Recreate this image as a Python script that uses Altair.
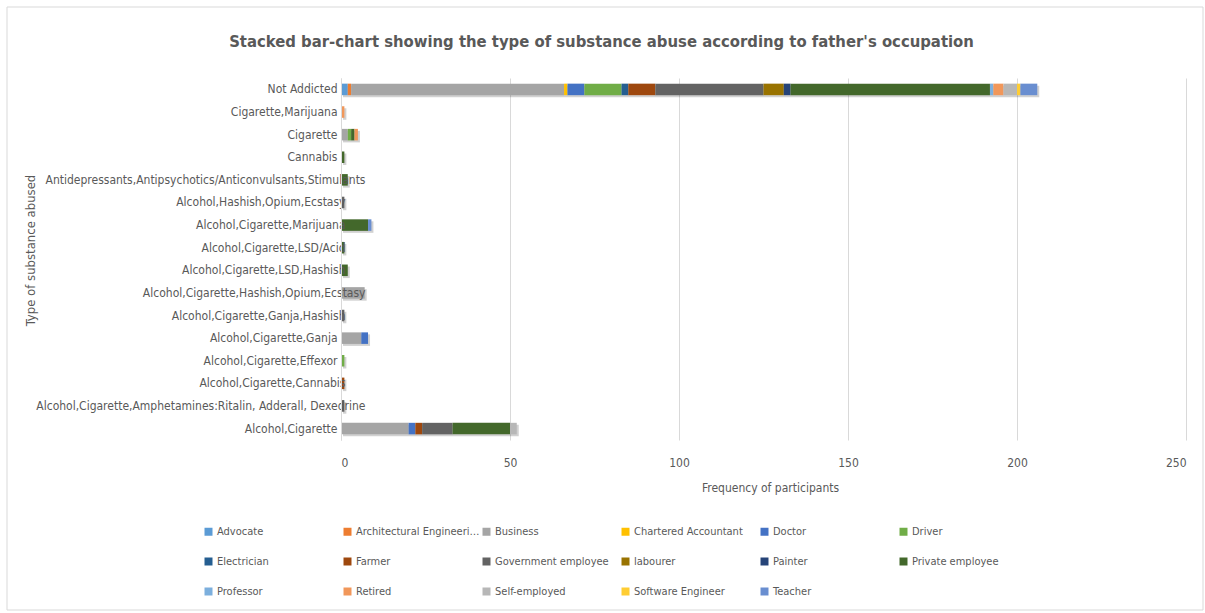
import altair as alt
import pandas as pd

# Substance-use categories, listed top to bottom
categories = [
    "Not Addicted",
    "Cigarette,Marijuana",
    "Cigarette",
    "Cannabis",
    "Antidepressants,Antipsychotics/Anticonvulsants,Stimulants",
    "Alcohol,Hashish,Opium,Ecstasy",
    "Alcohol,Cigarette,Marijuana",
    "Alcohol,Cigarette,LSD/Acid",
    "Alcohol,Cigarette,LSD,Hashish",
    "Alcohol,Cigarette,Hashish,Opium,Ecstasy",
    "Alcohol,Cigarette,Ganja,Hashish",
    "Alcohol,Cigarette,Ganja",
    "Alcohol,Cigarette,Effexor",
    "Alcohol,Cigarette,Cannabis",
    "Alcohol,Cigarette,Amphetamines:Ritalin, Adderall, Dexedrine",
    "Alcohol,Cigarette",
]

# Participant counts per father's occupation, one value per category above
advocate =            [2, 0, 0, 0, 0, 0, 0, 0, 0, 0, 0, 0, 0, 0, 0, 0]
architectural_eng =   [1, 0, 0, 0, 0, 0, 0, 0, 0, 0, 0, 0, 0, 0, 0, 0]
business =            [63, 0, 2, 0, 0, 0, 0, 0, 0, 7, 0, 6, 0, 0, 0, 20]
chartered_acct =      [1, 0, 0, 0, 0, 0, 0, 0, 0, 0, 0, 0, 0, 0, 0, 0]
doctor =              [5, 0, 0, 0, 0, 0, 0, 0, 0, 0, 0, 2, 0, 0, 0, 2]
driver =              [11, 0, 1, 0, 0, 0, 0, 0, 0, 0, 0, 0, 1, 0, 0, 0]
electrician =         [2, 0, 0, 0, 0, 0, 0, 0, 0, 0, 0, 0, 0, 0, 0, 0]
farmer =              [8, 0, 0, 0, 0, 0, 0, 0, 0, 0, 0, 0, 0, 1, 0, 2]
government_emp =      [32, 0, 0, 0, 0, 1, 0, 0, 0, 0, 1, 0, 0, 0, 1, 9]
labourer =            [6, 0, 0, 0, 0, 0, 0, 0, 0, 0, 0, 0, 0, 0, 0, 0]
painter =             [2, 0, 0, 0, 0, 0, 0, 0, 0, 0, 0, 0, 0, 0, 0, 0]
private_emp =         [59, 0, 1, 1, 2, 0, 8, 1, 2, 0, 0, 0, 0, 0, 0, 17]
professor =           [1, 0, 0, 0, 0, 0, 0, 0, 0, 0, 0, 0, 0, 0, 0, 0]
retired =             [3, 1, 1, 0, 0, 0, 0, 0, 0, 0, 0, 0, 0, 0, 0, 0]
self_employed =       [4, 0, 0, 0, 0, 0, 0, 0, 0, 0, 0, 0, 0, 0, 0, 2]
software_eng =        [1, 0, 0, 0, 0, 0, 0, 0, 0, 0, 0, 0, 0, 0, 0, 0]
teacher =             [5, 0, 0, 0, 0, 0, 1, 0, 0, 0, 0, 0, 0, 0, 0, 0]

occupations = [
    "Advocate", "Architectural Engineering", "Business", "Chartered Accountant",
    "Doctor", "Driver", "Electrician", "Farmer", "Government employee",
    "labourer", "Painter", "Private employee", "Professor", "Retired",
    "Self-employed", "Software Engineer", "Teacher",
]
series = [
    advocate, architectural_eng, business, chartered_acct, doctor, driver,
    electrician, farmer, government_emp, labourer, painter, private_emp,
    professor, retired, self_employed, software_eng, teacher,
]
palette = [
    "#5B9BD5", "#ED7D31", "#A5A5A5", "#FFC000", "#4472C4", "#70AD47",
    "#255E91", "#9E480E", "#636363", "#997300", "#264478", "#43682B",
    "#7CAFDD", "#F1975A", "#B7B7B7", "#FFCD33", "#698ED0",
]

rows = []
for k, (occ, vals) in enumerate(zip(occupations, series)):
    for cat, v in zip(categories, vals):
        if v > 0:
            rows.append({"substance": cat, "occupation": occ, "count": v, "k": k})
df = pd.DataFrame(rows)
totals = df.groupby("substance", as_index=False)["count"].sum()

FONT = "DejaVu Sans Condensed"
TXT = "#595959"

# long category names run past the axis line into the plot
label_pad = {
    "condition": [
        {"test": "length(datum.label) >= 35", "value": -24},
        {"test": "length(datum.label) >= 26", "value": -4},
    ],
    "value": 4,
}

y_enc = alt.Y(
    "substance:N",
    sort=categories,
    scale=alt.Scale(paddingInner=0.49, paddingOuter=0.25),
    axis=alt.Axis(
        title="Type of substance abused",
        titleFontSize=13, titleFontWeight="normal", titleColor=TXT,
        titleX=-304, titleY=172,
        labelFontSize=12, labelColor=TXT, labelPadding=label_pad, labelLimit=400,
        ticks=False, domain=True, domainColor="#d9d9d9", grid=False,
        zindex=1,
    ),
)
x_scale = alt.Scale(domain=[0, 250], nice=False)
x_axis = alt.Axis(
    title="Frequency of participants",
    titleFontSize=12, titleFontWeight="normal", titleColor=TXT,
    titlePadding=14, titleX=429,
    values=[0, 50, 100, 150, 200, 250],
    labelFontSize=12, labelColor=TXT, labelPadding=17,
    grid=True, gridColor="#d9d9d9", domain=False, ticks=False,
)

# soft drop shadow under each full bar
shadow = alt.Chart(totals).mark_bar(
    color="#000000", opacity=0.18,
    xOffset=2, x2Offset=2, yOffset=2, y2Offset=2,
).encode(
    x=alt.X("count:Q", scale=x_scale, axis=x_axis),
    y=y_enc,
)

bars = alt.Chart(df).mark_bar().encode(
    x=alt.X("count:Q", stack="zero", scale=x_scale, axis=x_axis),
    y=y_enc,
    color=alt.Color(
        "occupation:N",
        scale=alt.Scale(domain=occupations, range=palette),
        legend=alt.Legend(
            title=None, orient="none", legendX=-138, legendY=448,
            direction="horizontal", columns=6, gridAlign="all",
            symbolType="square", symbolSize=64, symbolStrokeWidth=0,
            labelFontSize=11, labelColor=TXT, labelLimit=124, labelOffset=3,
            columnPadding=1, rowPadding=18,
        ),
    ),
    order=alt.Order("k:Q", sort="ascending"),
)

# chart-area border
frame = alt.Chart(pd.DataFrame({"a": [0]})).mark_rect(
    fill="transparent", stroke="#d9d9d9", strokeWidth=1
).encode(
    x=alt.value(-334), x2=alt.value(862), y=alt.value(-71), y2=alt.value(532)
)

chart = alt.layer(frame, shadow, bars).properties(
    width=845,
    height=362,
    padding={"left": 341, "top": 78, "right": 19, "bottom": 173},
    autosize="none",
    title=alt.TitleParams(
        "Stacked bar-chart showing the type of substance abuse according to father's occupation",
        fontSize=16.5, fontWeight="bold", color=TXT, font=FONT,
        anchor="middle", dx=-162, offset=0, dy=44,
    ),
).configure(
    font=FONT,
).configure_view(
    stroke=None,
)

chart.save("out.html", embed_options={"renderer": "svg", "actions": False})
